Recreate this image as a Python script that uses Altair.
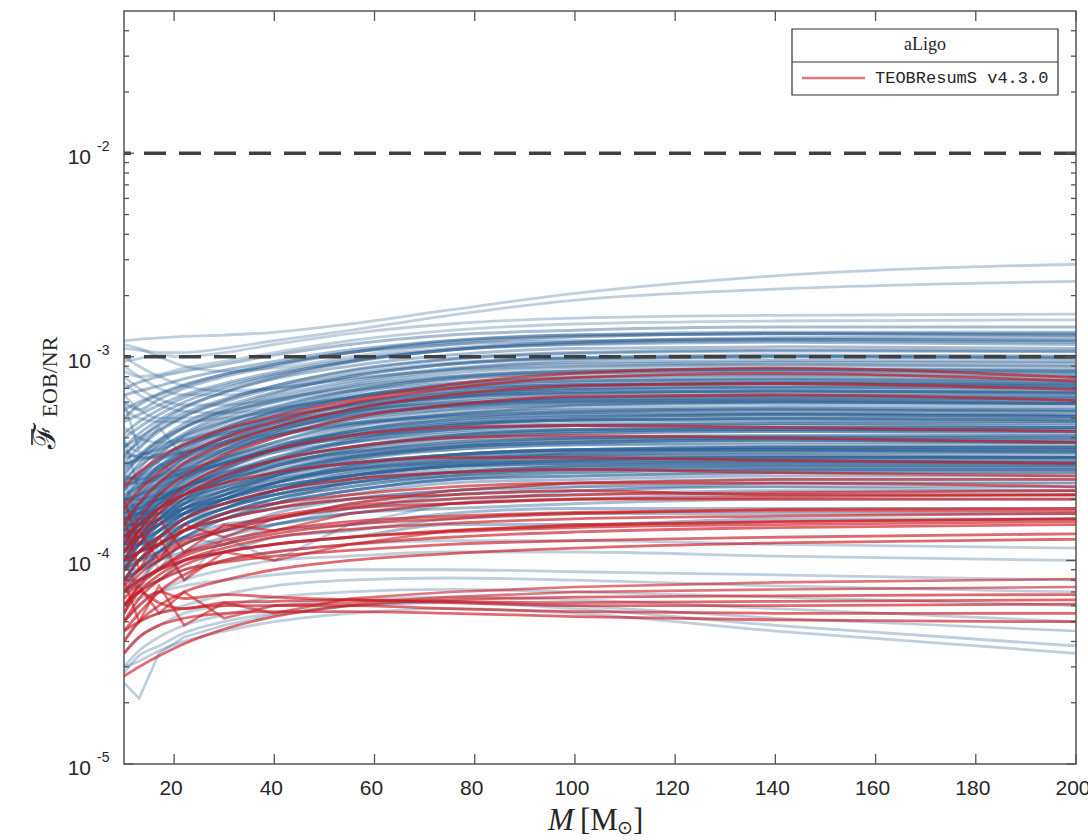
import altair as alt
import pandas as pd

# Total mass grid (solar masses) on which every mismatch curve is sampled
mass = [10, 13, 17, 22, 30, 40, 55, 75, 100, 140, 200]

# Mismatch curves, in units of 1e-4 -- full NR catalogue (blue)
blue_top = [
    [12.0, 12.2, 12.4, 12.6, 12.8, 13.2, 14.5, 17.0, 20.5, 25.0, 28.5],
    [11.0, 10.8, 10.5, 10.5, 11.0, 12.0, 13.5, 16.0, 19.0, 21.5, 23.5],
    [9.5, 9.8, 10.2, 10.0, 10.5, 11.5, 13.0, 14.5, 15.5, 16.0, 16.2],
    [8.5, 8.0, 8.2, 8.8, 9.5, 10.5, 12.0, 13.5, 14.5, 15.0, 15.2],
    [11.5, 11.0, 10.0, 9.0, 8.5, 8.8, 10.0, 11.5, 12.5, 13.0, 12.8],
    [10.0, 9.0, 8.0, 7.2, 6.8, 7.0, 7.8, 8.8, 9.6, 10.0, 10.0],
    [9.0, 8.0, 7.0, 6.5, 6.5, 7.0, 7.8, 8.6, 9.0, 9.2, 9.0],
    [8.0, 7.0, 6.2, 5.8, 5.8, 6.2, 7.0, 8.0, 8.6, 8.8, 8.7],
    [6.5, 5.5, 5.0, 5.0, 5.4, 6.0, 6.8, 7.4, 7.8, 7.9, 7.8],
    [7.5, 6.5, 5.8, 5.4, 5.3, 5.6, 6.2, 7.0, 7.5, 7.7, 7.6],
    [5.5, 5.0, 4.8, 4.8, 5.0, 5.4, 6.0, 6.6, 7.0, 7.1, 7.0],
    [4.5, 4.0, 3.8, 3.9, 4.2, 4.7, 5.3, 5.9, 6.3, 6.4, 6.3],
    [3.8, 3.4, 3.3, 3.4, 3.7, 4.1, 4.6, 5.1, 5.4, 5.5, 5.4],
]
blue_rising_high = [
    [7.0, 7.5, 8.0, 8.5, 9.2, 10.2, 11.5, 12.8, 13.5, 14.0, 14.0],
    [6.5, 6.8, 7.2, 7.8, 8.6, 9.5, 10.8, 12.0, 12.8, 13.2, 13.2],
    [5.5, 6.0, 6.6, 7.3, 8.2, 9.2, 10.5, 11.8, 12.6, 13.0, 13.0],
    [6.0, 5.5, 6.2, 7.0, 8.0, 9.0, 10.5, 12.0, 12.8, 13.0, 12.8],
    [3.2, 3.9, 4.7, 5.6, 6.7, 7.9, 9.4, 10.8, 11.8, 12.4, 12.5],
    [4.8, 5.2, 5.8, 6.5, 7.4, 8.4, 9.7, 11.0, 11.8, 12.2, 12.1],
    [5.0, 5.8, 6.5, 7.2, 8.2, 9.2, 10.5, 11.5, 12.0, 12.2, 12.0],
    [4.0, 4.5, 5.2, 6.0, 7.0, 8.1, 9.5, 10.8, 11.6, 12.0, 11.8],
    [4.2, 4.8, 5.5, 6.3, 7.2, 8.2, 9.5, 10.8, 11.5, 11.8, 11.5],
    [3.6, 4.2, 4.9, 5.7, 6.7, 7.8, 9.0, 10.2, 11.0, 11.2, 11.0],
    [3.0, 3.6, 4.3, 5.1, 6.1, 7.2, 8.6, 9.8, 10.5, 10.8, 10.7],
    [3.6, 4.0, 4.6, 5.3, 6.2, 7.2, 8.5, 9.7, 10.4, 10.7, 10.6],
    [2.4, 3.0, 3.7, 4.5, 5.5, 6.6, 8.0, 9.2, 9.9, 10.2, 10.1],
    [3.3, 3.8, 4.4, 5.1, 6.0, 7.0, 8.2, 9.3, 9.9, 10.1, 9.9],
    [2.6, 3.2, 3.9, 4.7, 5.7, 6.7, 8.0, 9.2, 9.8, 10.0, 9.8],
    [2.7, 3.2, 3.8, 4.5, 5.4, 6.4, 7.6, 8.7, 9.4, 9.6, 9.5],
    [2.2, 2.8, 3.5, 4.2, 5.2, 6.2, 7.4, 8.6, 9.2, 9.4, 9.3],
    [2.0, 2.6, 3.3, 4.1, 5.0, 6.0, 7.2, 8.3, 8.9, 9.1, 9.0],
    [1.9, 2.5, 3.1, 3.8, 4.7, 5.6, 6.8, 7.9, 8.5, 8.7, 8.6],
    [2.8, 3.3, 3.9, 4.5, 5.3, 6.1, 7.1, 8.0, 8.5, 8.7, 8.5],
    [2.5, 2.9, 3.4, 4.0, 4.8, 5.7, 6.8, 7.8, 8.3, 8.5, 8.3],
    [1.7, 2.2, 2.8, 3.5, 4.4, 5.4, 6.6, 7.7, 8.3, 8.5, 8.4],
    [1.4, 1.9, 2.5, 3.2, 4.1, 5.1, 6.3, 7.4, 8.0, 8.2, 8.1],
    [1.6, 2.1, 2.7, 3.4, 4.3, 5.2, 6.3, 7.3, 7.9, 8.1, 8.0],
]
blue_rising_mid = [
    [2.2, 2.6, 3.1, 3.7, 4.5, 5.3, 6.3, 7.1, 7.6, 7.8, 7.7],
    [1.8, 2.3, 2.9, 3.6, 4.5, 5.4, 6.4, 7.2, 7.6, 7.7, 7.5],
    [1.5, 1.9, 2.4, 3.0, 3.8, 4.7, 5.8, 6.8, 7.3, 7.5, 7.4],
    [1.2, 1.6, 2.1, 2.7, 3.5, 4.4, 5.5, 6.6, 7.2, 7.4, 7.3],
    [2.9, 3.2, 3.6, 4.1, 4.8, 5.5, 6.3, 7.0, 7.3, 7.4, 7.2],
    [1.5, 2.0, 2.6, 3.2, 4.0, 4.9, 5.9, 6.8, 7.3, 7.4, 7.2],
    [2.0, 2.4, 2.9, 3.4, 4.1, 4.9, 5.8, 6.6, 7.0, 7.2, 7.1],
    [1.0, 1.4, 1.9, 2.5, 3.3, 4.2, 5.3, 6.3, 6.9, 7.1, 7.0],
    [1.4, 1.8, 2.3, 2.9, 3.7, 4.5, 5.5, 6.4, 6.9, 7.0, 6.8],
    [1.9, 2.3, 2.8, 3.3, 4.0, 4.7, 5.6, 6.3, 6.7, 6.8, 6.7],
    [1.3, 1.7, 2.2, 2.8, 3.5, 4.3, 5.3, 6.1, 6.6, 6.8, 6.7],
    [2.4, 2.7, 3.1, 3.6, 4.3, 5.0, 5.8, 6.4, 6.7, 6.8, 6.6],
    [3.2, 3.3, 3.5, 3.9, 4.4, 5.0, 5.7, 6.3, 6.6, 6.7, 6.6],
    [1.3, 1.7, 2.2, 2.7, 3.4, 4.1, 5.0, 5.8, 6.3, 6.5, 6.4],
    [1.8, 2.1, 2.6, 3.1, 3.8, 4.5, 5.4, 6.0, 6.4, 6.5, 6.4],
    [1.7, 2.0, 2.4, 2.9, 3.6, 4.3, 5.1, 5.8, 6.2, 6.3, 6.2],
    [1.1, 1.5, 2.0, 2.5, 3.2, 4.0, 4.9, 5.7, 6.2, 6.3, 6.2],
    [1.2, 1.5, 1.9, 2.4, 3.1, 3.8, 4.7, 5.5, 6.0, 6.2, 6.1],
    [2.3, 2.5, 2.8, 3.2, 3.8, 4.4, 5.1, 5.7, 6.0, 6.1, 6.0],
    [3.0, 3.1, 3.3, 3.7, 4.2, 4.8, 5.4, 5.9, 6.1, 6.1, 5.9],
    [2.5, 2.6, 2.9, 3.3, 3.9, 4.5, 5.2, 5.7, 6.0, 6.0, 5.9],
    [1.1, 1.4, 1.8, 2.3, 2.9, 3.6, 4.5, 5.3, 5.8, 6.0, 5.9],
    [1.6, 1.9, 2.3, 2.8, 3.4, 4.1, 4.9, 5.5, 5.8, 5.9, 5.8],
    [1.4, 1.7, 2.1, 2.6, 3.2, 3.8, 4.6, 5.2, 5.6, 5.7, 5.6],
    [1.0, 1.3, 1.7, 2.2, 2.8, 3.5, 4.3, 5.0, 5.4, 5.6, 5.5],
    [2.1, 2.3, 2.6, 3.0, 3.5, 4.1, 4.7, 5.2, 5.5, 5.5, 5.4],
    [1.1, 1.4, 1.8, 2.2, 2.8, 3.5, 4.3, 4.9, 5.3, 5.5, 5.4],
    [3.5, 3.2, 3.2, 3.4, 3.8, 4.2, 4.7, 5.1, 5.3, 5.3, 5.2],
    [1.3, 1.6, 2.0, 2.4, 3.0, 3.6, 4.3, 4.9, 5.2, 5.3, 5.2],
    [1.4, 1.6, 1.9, 2.3, 2.8, 3.4, 4.1, 4.7, 5.1, 5.2, 5.1],
    [1.2, 1.5, 1.9, 2.3, 2.9, 3.5, 4.2, 4.8, 5.1, 5.2, 5.1],
    [0.9, 1.2, 1.5, 1.9, 2.5, 3.1, 3.9, 4.6, 5.0, 5.2, 5.1],
    [1.5, 1.8, 2.1, 2.5, 3.0, 3.5, 4.1, 4.6, 4.9, 5.0, 5.0],
    [0.9, 1.2, 1.6, 2.0, 2.6, 3.2, 3.9, 4.5, 4.9, 5.0, 4.9],
    [1.9, 2.1, 2.4, 2.7, 3.2, 3.7, 4.2, 4.7, 4.9, 5.0, 4.9],
    [2.0, 2.1, 2.3, 2.6, 3.0, 3.5, 4.1, 4.6, 4.9, 4.9, 4.8],
    [1.0, 1.3, 1.6, 2.0, 2.5, 3.1, 3.8, 4.4, 4.7, 4.8, 4.8],
    [1.2, 1.5, 1.8, 2.2, 2.7, 3.2, 3.8, 4.3, 4.6, 4.7, 4.7],
    [1.7, 1.9, 2.2, 2.6, 3.0, 3.5, 4.0, 4.4, 4.6, 4.7, 4.6],
    [2.6, 2.5, 2.6, 2.8, 3.1, 3.5, 4.0, 4.4, 4.6, 4.6, 4.5],
    [1.2, 1.4, 1.7, 2.1, 2.6, 3.1, 3.6, 4.1, 4.4, 4.5, 4.5],
    [1.1, 1.3, 1.6, 2.0, 2.4, 2.9, 3.5, 4.1, 4.4, 4.5, 4.5],
    [1.0, 1.2, 1.5, 1.9, 2.4, 2.9, 3.5, 4.0, 4.3, 4.4, 4.4],
    [1.6, 1.8, 2.0, 2.3, 2.7, 3.1, 3.6, 4.1, 4.3, 4.4, 4.4],
    [2.4, 2.4, 2.5, 2.7, 3.0, 3.4, 3.8, 4.2, 4.4, 4.4, 4.3],
    [1.3, 1.5, 1.8, 2.1, 2.5, 2.9, 3.4, 3.9, 4.2, 4.3, 4.3],
    [1.5, 1.7, 2.0, 2.3, 2.7, 3.1, 3.6, 4.0, 4.2, 4.3, 4.2],
    [0.9, 1.1, 1.4, 1.8, 2.2, 2.7, 3.3, 3.8, 4.0, 4.1, 4.1],
    [0.8, 1.0, 1.3, 1.7, 2.1, 2.6, 3.2, 3.7, 4.0, 4.1, 4.1],
]
blue_rising_low = [
    [2.0, 2.0, 2.1, 2.3, 2.6, 3.0, 3.4, 3.7, 3.9, 4.0, 4.0],
    [0.9, 1.1, 1.4, 1.7, 2.1, 2.6, 3.1, 3.6, 3.9, 4.0, 4.0],
    [1.7, 1.8, 2.0, 2.3, 2.6, 3.0, 3.4, 3.8, 4.0, 4.0, 3.9],
    [1.3, 1.5, 1.7, 2.0, 2.3, 2.7, 3.2, 3.6, 3.8, 3.9, 3.9],
    [1.1, 1.3, 1.6, 1.9, 2.3, 2.7, 3.2, 3.6, 3.8, 3.9, 3.8],
    [1.8, 1.9, 2.0, 2.2, 2.5, 2.9, 3.3, 3.6, 3.8, 3.9, 3.8],
    [1.1, 1.3, 1.5, 1.8, 2.2, 2.6, 3.1, 3.5, 3.7, 3.8, 3.8],
    [1.4, 1.6, 1.8, 2.1, 2.5, 2.8, 3.2, 3.5, 3.7, 3.7, 3.7],
    [0.8, 1.0, 1.3, 1.6, 2.0, 2.4, 2.9, 3.3, 3.5, 3.6, 3.6],
    [1.3, 1.4, 1.6, 1.9, 2.2, 2.6, 3.0, 3.3, 3.5, 3.6, 3.6],
    [1.0, 1.2, 1.4, 1.7, 2.0, 2.4, 2.9, 3.3, 3.5, 3.6, 3.6],
    [1.6, 1.7, 1.9, 2.1, 2.4, 2.7, 3.0, 3.3, 3.5, 3.5, 3.5],
    [1.6, 1.7, 1.8, 2.0, 2.3, 2.6, 3.0, 3.3, 3.5, 3.5, 3.5],
    [0.9, 1.1, 1.3, 1.6, 2.0, 2.4, 2.8, 3.2, 3.4, 3.5, 3.5],
    [1.2, 1.3, 1.5, 1.8, 2.1, 2.5, 2.9, 3.2, 3.4, 3.5, 3.4],
    [1.0, 1.2, 1.4, 1.7, 2.0, 2.4, 2.8, 3.1, 3.3, 3.4, 3.4],
    [0.8, 1.0, 1.2, 1.5, 1.8, 2.2, 2.7, 3.1, 3.3, 3.4, 3.4],
    [1.6, 1.6, 1.7, 1.9, 2.2, 2.5, 2.8, 3.1, 3.3, 3.3, 3.3],
    [1.2, 1.3, 1.5, 1.8, 2.1, 2.4, 2.8, 3.0, 3.2, 3.3, 3.2],
    [1.5, 1.5, 1.6, 1.8, 2.1, 2.4, 2.7, 3.0, 3.2, 3.2, 3.2],
    [1.8, 1.7, 1.7, 1.8, 2.0, 2.3, 2.6, 2.9, 3.1, 3.2, 3.2],
    [0.9, 1.0, 1.2, 1.5, 1.8, 2.2, 2.6, 2.9, 3.1, 3.2, 3.2],
    [1.0, 1.1, 1.3, 1.6, 1.9, 2.2, 2.6, 3.0, 3.1, 3.2, 3.2],
    [1.1, 1.2, 1.4, 1.6, 1.9, 2.2, 2.6, 2.9, 3.1, 3.1, 3.1],
    [1.3, 1.4, 1.6, 1.8, 2.0, 2.3, 2.6, 2.9, 3.0, 3.1, 3.1],
    [1.2, 1.3, 1.5, 1.7, 2.0, 2.3, 2.6, 2.9, 3.0, 3.1, 3.0],
    [0.9, 1.0, 1.2, 1.5, 1.8, 2.1, 2.5, 2.8, 3.0, 3.0, 3.0],
    [1.0, 1.1, 1.3, 1.5, 1.8, 2.1, 2.4, 2.7, 2.9, 3.0, 3.0],
    [0.8, 0.9, 1.1, 1.4, 1.7, 2.0, 2.4, 2.7, 2.9, 3.0, 3.0],
    [1.3, 1.3, 1.4, 1.6, 1.8, 2.1, 2.4, 2.7, 2.8, 2.9, 2.9],
    [0.8, 0.9, 1.1, 1.4, 1.7, 2.0, 2.3, 2.6, 2.8, 2.9, 2.9],
    [1.4, 1.4, 1.5, 1.7, 1.9, 2.2, 2.5, 2.7, 2.9, 2.9, 2.9],
    [1.5, 1.5, 1.6, 1.7, 1.9, 2.1, 2.4, 2.6, 2.8, 2.8, 2.8],
    [1.0, 1.1, 1.2, 1.4, 1.7, 2.0, 2.3, 2.6, 2.7, 2.8, 2.8],
    [1.0, 1.1, 1.2, 1.4, 1.6, 1.9, 2.2, 2.5, 2.7, 2.8, 2.8],
    [1.1, 1.2, 1.3, 1.5, 1.7, 1.9, 2.2, 2.5, 2.6, 2.7, 2.7],
    [0.7, 0.9, 1.1, 1.3, 1.6, 1.9, 2.2, 2.5, 2.6, 2.7, 2.7],
    [0.9, 1.0, 1.1, 1.3, 1.6, 1.8, 2.1, 2.4, 2.5, 2.6, 2.6],
    [1.2, 1.2, 1.3, 1.4, 1.6, 1.8, 2.0, 2.2, 2.4, 2.5, 2.5],
    [0.7, 0.8, 1.0, 1.2, 1.4, 1.7, 2.0, 2.2, 2.3, 2.4, 2.4],
    [1.0, 1.0, 1.1, 1.3, 1.5, 1.6, 1.9, 2.1, 2.2, 2.3, 2.3],
    [0.8, 0.9, 1.0, 1.2, 1.4, 1.6, 1.8, 2.0, 2.1, 2.2, 2.2],
    [1.3, 1.2, 1.2, 1.3, 1.4, 1.5, 1.7, 1.9, 2.0, 2.1, 2.1],
    [0.7, 0.8, 0.9, 1.1, 1.3, 1.5, 1.7, 1.8, 1.9, 2.0, 2.0],
    [0.9, 0.9, 1.0, 1.1, 1.2, 1.4, 1.5, 1.7, 1.8, 1.8, 1.8],
    [0.6, 0.7, 0.8, 1.0, 1.1, 1.3, 1.4, 1.6, 1.7, 1.7, 1.7],
    [0.8, 0.8, 0.9, 1.0, 1.1, 1.2, 1.3, 1.5, 1.5, 1.6, 1.6],
]
blue_bottom = [
    [0.7, 0.75, 0.8, 0.9, 1.0, 1.1, 1.2, 1.25, 1.25, 1.2, 1.15],
    [0.5, 0.6, 0.7, 0.8, 0.9, 1.0, 1.05, 1.1, 1.1, 1.05, 1.0],
    [0.6, 0.65, 0.7, 0.75, 0.8, 0.85, 0.9, 0.9, 0.88, 0.85, 0.8],
    [0.4, 0.5, 0.55, 0.6, 0.68, 0.75, 0.8, 0.82, 0.8, 0.75, 0.7],
    [0.35, 0.42, 0.48, 0.55, 0.6, 0.66, 0.7, 0.72, 0.7, 0.66, 0.6],
    [0.3, 0.36, 0.42, 0.48, 0.54, 0.6, 0.64, 0.66, 0.64, 0.58, 0.5],
    [0.28, 0.34, 0.38, 0.44, 0.5, 0.55, 0.6, 0.62, 0.58, 0.48, 0.38],
    [0.3, 0.32, 0.36, 0.4, 0.45, 0.5, 0.55, 0.58, 0.55, 0.45, 0.35],
]
# curves with a jagged low-mass end, drawn point to point
blue_jagged = [
    [1.0, 0.7, 1.2, 0.8, 1.3, 1.0, 1.5, 1.9, 2.2, 2.4, 2.4],
    [2.5, 1.5, 2.2, 1.6, 2.0, 1.9, 2.5, 3.0, 3.4, 3.6, 3.6],
    [4.0, 2.2, 3.0, 2.5, 3.2, 3.6, 4.4, 5.2, 5.8, 6.0, 5.9],
    [0.9, 1.4, 0.9, 1.3, 1.2, 1.5, 1.8, 2.1, 2.3, 2.3, 2.2],
    [0.25, 0.21, 0.35, 0.42, 0.48, 0.54, 0.6, 0.63, 0.6, 0.52, 0.45],
    [6.0, 3.5, 4.5, 3.2, 4.0, 4.6, 5.5, 6.5, 7.2, 7.5, 7.4],
]

# Mismatch curves, in units of 1e-4 -- TEOBResumS v4.3.0 subset (red)
red_upper = [
    [2.3, 2.7, 3.2, 3.7, 4.4, 5.1, 6.1, 7.3, 8.3, 8.8, 7.9],
    [1.8, 2.2, 2.7, 3.3, 4.0, 4.8, 5.9, 7.0, 7.9, 8.3, 7.6],
    [1.5, 1.9, 2.4, 3.0, 3.7, 4.5, 5.5, 6.5, 7.2, 7.4, 6.9],
    [1.2, 1.6, 2.1, 2.6, 3.3, 4.0, 5.0, 5.8, 6.4, 6.5, 6.1],
]
red_middle = [
    [1.1, 1.4, 1.8, 2.3, 2.9, 3.5, 4.1, 4.5, 4.6, 4.5, 4.3],
    [1.0, 1.3, 1.7, 2.1, 2.6, 3.1, 3.6, 4.0, 4.1, 4.0, 3.8],
    [1.3, 1.5, 1.8, 2.1, 2.4, 2.7, 3.0, 3.2, 3.2, 3.1, 3.0],
    [0.9, 1.1, 1.3, 1.6, 1.9, 2.2, 2.5, 2.7, 2.8, 2.7, 2.6],
    [0.8, 1.0, 1.2, 1.4, 1.7, 1.9, 2.1, 2.3, 2.4, 2.4, 2.3],
    [1.0, 1.1, 1.2, 1.4, 1.6, 1.8, 2.0, 2.1, 2.2, 2.1, 2.1],
    [0.7, 0.85, 1.0, 1.2, 1.4, 1.6, 1.8, 1.9, 2.0, 2.0, 2.0],
    [0.75, 0.9, 1.05, 1.25, 1.45, 1.65, 1.85, 2.0, 2.1, 2.15, 2.2],
]
red_lower = [
    [0.6, 0.75, 0.9, 1.05, 1.2, 1.35, 1.5, 1.6, 1.7, 1.75, 1.75],
    [0.55, 0.7, 0.85, 1.0, 1.15, 1.3, 1.42, 1.52, 1.6, 1.65, 1.7],
    [0.5, 0.65, 0.8, 0.95, 1.1, 1.2, 1.3, 1.4, 1.48, 1.55, 1.6],
    [0.7, 0.8, 0.9, 1.0, 1.1, 1.2, 1.3, 1.38, 1.45, 1.5, 1.55],
    [0.45, 0.55, 0.7, 0.85, 1.0, 1.1, 1.2, 1.3, 1.38, 1.45, 1.5],
    [0.6, 0.7, 0.8, 0.9, 0.98, 1.05, 1.12, 1.2, 1.25, 1.3, 1.35],
    [0.4, 0.5, 0.6, 0.7, 0.8, 0.9, 1.0, 1.08, 1.15, 1.22, 1.27],
    [0.65, 0.78, 0.92, 1.08, 1.25, 1.4, 1.55, 1.65, 1.72, 1.78, 1.8],
]
red_bottom = [
    [0.55, 0.7, 0.62, 0.58, 0.62, 0.63, 0.64, 0.63, 0.62, 0.63, 0.64],
    [0.5, 0.6, 0.7, 0.65, 0.68, 0.66, 0.64, 0.62, 0.6, 0.6, 0.61],
    [0.45, 0.5, 0.55, 0.58, 0.6, 0.6, 0.6, 0.58, 0.56, 0.55, 0.55],
    [0.35, 0.42, 0.48, 0.52, 0.55, 0.56, 0.56, 0.55, 0.53, 0.51, 0.5],
    [0.27, 0.3, 0.34, 0.39, 0.46, 0.53, 0.6, 0.64, 0.66, 0.67, 0.68],
]
# curves with a jagged low-mass end, drawn point to point
red_jagged = [
    [0.8, 0.5, 0.75, 0.48, 0.62, 0.55, 0.65, 0.7, 0.74, 0.78, 0.81],
    [0.6, 0.75, 0.55, 0.7, 0.52, 0.6, 0.62, 0.66, 0.7, 0.72, 0.74],
    [1.6, 0.9, 1.3, 0.8, 1.1, 1.0, 1.2, 1.4, 1.5, 1.55, 1.6],
    [2.0, 1.2, 1.6, 1.1, 1.5, 1.4, 1.7, 1.9, 2.0, 2.05, 2.1],
    [1.1, 1.4, 1.0, 1.5, 1.3, 1.6, 1.9, 2.2, 2.4, 2.5, 2.5],
]

# Axis ticks and reference thresholds
x_ticks = [20, 40, 60, 80, 100, 120, 140, 160, 180, 200]
y_major = [1e-5, 1e-4, 1e-3, 1e-2]
y_exponents = ["-5", "-4", "-3", "-2"]
y_minor = [k * 10.0 ** e for e in (-5, -4, -3) for k in range(2, 10)] + [2e-2, 3e-2, 4e-2]
thresholds = [1e-2, 1e-3]

W, H = 952, 753
BLUE = "#2b5f93"
RED = "#cc1a22"
AXIS = "#555555"
LABEL = "#262626"


def to_frame(groups, tag):
    rows = []
    for gi, group in enumerate(groups):
        for ci, curve in enumerate(group):
            for m, v in zip(mass, curve):
                rows.append({"M": m, "F": v * 1e-4, "curve": f"{tag}{gi}_{ci}"})
    return pd.DataFrame(rows)


blue_core_df = to_frame([blue_rising_high, blue_rising_mid, blue_rising_low], "bc")
blue_outer_df = to_frame([blue_top, blue_bottom], "bo")
blue_jag_df = to_frame([blue_jagged], "bj")
red_smooth_df = to_frame([red_upper, red_middle, red_lower, red_bottom], "rs")
red_jag_df = to_frame([red_jagged], "rj")

xs = alt.Scale(domain=[10, 200], nice=False, zero=False)
ys = alt.Scale(type="log", domain=[1e-5, 0.05], nice=False)
X = alt.X("M:Q", scale=xs, axis=None)
Y = alt.Y("F:Q", scale=ys, axis=None)


def curves(df, color, opacity, interp, width):
    return alt.Chart(df).mark_line(
        color=color, strokeWidth=width, opacity=opacity, interpolate=interp, clip=True
    ).encode(x=X, y=Y, detail="curve:N")


blue_o = curves(blue_outer_df, BLUE, 0.3, "monotone", 2.8)
blue_c = curves(blue_core_df, BLUE, 0.42, "monotone", 3.0)
blue_j = curves(blue_jag_df, BLUE, 0.32, "linear", 2.6)
red_s = curves(red_smooth_df, RED, 0.65, "monotone", 2.8)
red_j = curves(red_jag_df, RED, 0.6, "linear", 2.6)

thr = alt.Chart(pd.DataFrame({"F": thresholds})).mark_rule(
    color="#404040", strokeWidth=3.5, strokeDash=[22, 13]
).encode(y=Y)

# inward-pointing ticks on all four sides of the box
xt = pd.DataFrame({"M": x_ticks})
xtick_b = alt.Chart(xt).mark_rule(color=AXIS, strokeWidth=1.3).encode(
    x=X, y=alt.value(H), y2=alt.value(H - 10))
xtick_t = alt.Chart(xt).mark_rule(color=AXIS, strokeWidth=1.3).encode(
    x=X, y=alt.value(0), y2=alt.value(10))
ymaj = pd.DataFrame({"F": y_major, "exp": y_exponents})
ymin = pd.DataFrame({"F": y_minor})
ytick_l = alt.Chart(ymaj).mark_rule(color=AXIS, strokeWidth=1.3).encode(
    y=Y, x=alt.value(0), x2=alt.value(10))
ytick_r = alt.Chart(ymaj).mark_rule(color=AXIS, strokeWidth=1.3).encode(
    y=Y, x=alt.value(W), x2=alt.value(W - 10))
ymin_l = alt.Chart(ymin).mark_rule(color=AXIS, strokeWidth=1.3).encode(
    y=Y, x=alt.value(0), x2=alt.value(5))
ymin_r = alt.Chart(ymin).mark_rule(color=AXIS, strokeWidth=1.3).encode(
    y=Y, x=alt.value(W), x2=alt.value(W - 5))

# tick labels
xlab = alt.Chart(xt).mark_text(
    font="Liberation Sans", fontSize=21, color=LABEL, baseline="middle", align="center", dx=-3
).encode(x=X, y=alt.value(H + 25), text=alt.Text("M:Q", format="d"))
ylab_base = alt.Chart(ymaj).mark_text(
    font="Liberation Sans", fontSize=21, color=LABEL, baseline="middle", align="right", dy=5
).encode(y=Y, x=alt.value(-33), text=alt.value("10"))
ylab_exp = alt.Chart(ymaj).mark_text(
    font="Liberation Sans", fontSize=14, color=LABEL, baseline="middle", align="left", dy=-6
).encode(y=Y, x=alt.value(-27), text="exp:N")

# axis titles
one = pd.DataFrame({"k": [0]})


def label(text, x, y, size, font="Liberation Serif", style="normal", angle=0,
          align="center", dy=0):
    return alt.Chart(one).mark_text(
        font=font, fontSize=size, fontStyle=style, color=LABEL, angle=angle,
        align=align, baseline="middle", dy=dy
    ).encode(x=alt.value(x), y=alt.value(y), text=alt.value(text))


ytitle_main = label("\u2131", -78, 425, 31, angle=270)
ytitle_bar = alt.Chart(one).mark_rule(color=LABEL, strokeWidth=1.6).encode(
    x=alt.value(-92), y=alt.value(418), y2=alt.value(434))
ytitle_sub = label("EOB/NR", -74, 366, 22, angle=270)
xtitle_m = label("M", 424, 810, 31, style="italic", align="left")
xtitle_open = label("[M", 456, 810, 31, align="left")
xtitle_sun = label("\u2299", 493, 810, 19, align="left", dy=7)
xtitle_close = label("]", 509, 810, 31, align="left")

# legend box
legend_box = alt.Chart(one).mark_rect(fill="white", stroke="#333333", strokeWidth=1.2).encode(
    x=alt.value(668), x2=alt.value(934), y=alt.value(18), y2=alt.value(84))
legend_sep = alt.Chart(one).mark_rule(color="#333333", strokeWidth=1.2).encode(
    x=alt.value(668), x2=alt.value(934), y=alt.value(51))
legend_title = label("aLigo", 801, 34, 18)
legend_line = alt.Chart(one).mark_rule(color=RED, opacity=0.6, strokeWidth=2.6).encode(
    x=alt.value(678), x2=alt.value(741), y=alt.value(67))
legend_text = label("TEOBResumS v4.3.0", 751, 67, 17, font="Liberation Mono", align="left")

chart = alt.layer(
    blue_o, blue_c, blue_j, red_s, red_j, thr,
    xtick_b, xtick_t, ytick_l, ytick_r, ymin_l, ymin_r,
    xlab, ylab_base, ylab_exp,
    ytitle_main, ytitle_bar, ytitle_sub,
    xtitle_m, xtitle_open, xtitle_sun, xtitle_close,
    legend_box, legend_sep, legend_title, legend_line, legend_text,
).properties(
    width=W, height=H,
    padding={"left": 124, "top": 11, "right": 12, "bottom": 76},
    autosize=alt.AutoSizeParams(type="none"),
    background="white",
).configure_view(stroke=AXIS, strokeWidth=1.5)

chart.save("out.html", embed_options={"renderer": "svg", "actions": False})
